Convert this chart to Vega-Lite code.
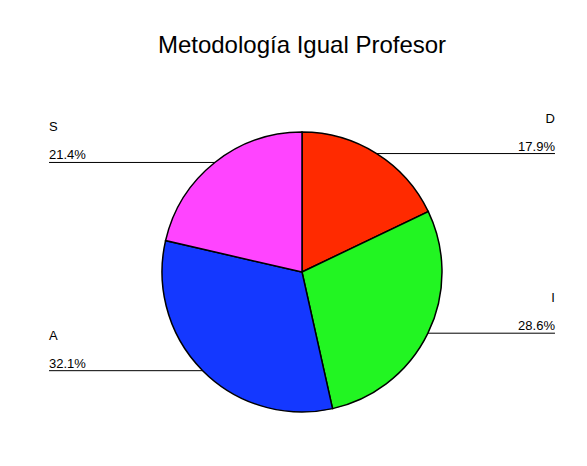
{
  "$schema": "https://vega.github.io/schema/vega-lite/v6.json",
  "width": 570,
  "height": 388,
  "autosize": "none",
  "padding": {"left": 17, "top": 78, "right": 0, "bottom": 0},
  "background": "white",
  "config": {"view": {"stroke": null}, "font": "Liberation Sans"},
  "title": {"text": "Metodología Igual Profesor", "fontSize": 24, "font": "Liberation Sans", "fontWeight": "normal", "color": "black", "anchor": "middle", "offset": 20},
  "data": {"values": [
    {"k": 1, "cat": "D", "pct": 17.9},
    {"k": 2, "cat": "I", "pct": 28.6},
    {"k": 3, "cat": "A", "pct": 32.1},
    {"k": 4, "cat": "S", "pct": 21.4}
  ]},
  "transform": [
    {"window": [{"op": "sum", "field": "pct", "as": "cum"}], "sort": [{"field": "k"}], "frame": [null, 0]},
    {"calculate": "(datum.cum - datum.pct / 2) / 100 * 2 * PI", "as": "mid"},
    {"calculate": "sin(datum.mid)", "as": "px"},
    {"calculate": "cos(datum.mid)", "as": "py"},
    {"calculate": "datum.px > 0 ? 1.807 : -1.807", "as": "ex"},
    {"calculate": "format(datum.pct, '.1f') + '%'", "as": "lab"}
  ],
  "layer": [
    {
      "mark": {"type": "arc", "outerRadius": 140, "stroke": "black", "strokeWidth": 1.5},
      "encoding": {
        "theta": {"field": "pct", "type": "quantitative", "stack": true},
        "order": {"field": "k", "type": "quantitative"},
        "color": {"field": "cat", "type": "nominal", "legend": null,
          "scale": {"domain": ["D", "I", "A", "S"], "range": ["#FF2A00", "#22F522", "#1438FF", "#FF44FF"]}}
      }
    },
    {
      "mark": {"type": "rule", "color": "black", "strokeWidth": 1},
      "encoding": {
        "x": {"field": "px", "type": "quantitative", "axis": null, "scale": {"domain": [-2.0357, 2.0357], "nice": false, "zero": false}},
        "x2": {"field": "ex"},
        "y": {"field": "py", "type": "quantitative", "axis": null, "scale": {"domain": [-1.3857, 1.3857], "nice": false, "zero": false}}
      }
    },
    {
      "transform": [{"filter": "datum.px > 0"}],
      "mark": {"type": "text", "align": "right", "baseline": "alphabetic", "dy": -3, "fontSize": 13, "color": "black"},
      "encoding": {
        "x": {"field": "ex", "type": "quantitative"},
        "y": {"field": "py", "type": "quantitative"},
        "text": {"field": "lab"}
      }
    },
    {
      "transform": [{"filter": "datum.px > 0"}],
      "mark": {"type": "text", "align": "right", "baseline": "alphabetic", "dy": -31, "fontSize": 13, "color": "black"},
      "encoding": {
        "x": {"field": "ex", "type": "quantitative"},
        "y": {"field": "py", "type": "quantitative"},
        "text": {"field": "cat"}
      }
    },
    {
      "transform": [{"filter": "datum.px <= 0"}],
      "mark": {"type": "text", "align": "left", "baseline": "alphabetic", "dy": -3, "fontSize": 13, "color": "black"},
      "encoding": {
        "x": {"field": "ex", "type": "quantitative"},
        "y": {"field": "py", "type": "quantitative"},
        "text": {"field": "lab"}
      }
    },
    {
      "transform": [{"filter": "datum.px <= 0"}],
      "mark": {"type": "text", "align": "left", "baseline": "alphabetic", "dy": -31, "fontSize": 13, "color": "black"},
      "encoding": {
        "x": {"field": "ex", "type": "quantitative"},
        "y": {"field": "py", "type": "quantitative"},
        "text": {"field": "cat"}
      }
    }
  ]
}
